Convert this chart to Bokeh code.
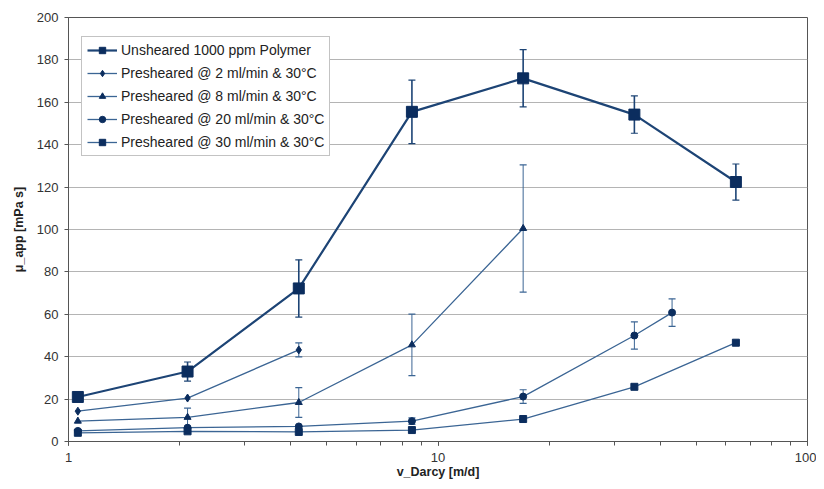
from bokeh.plotting import figure
from bokeh.models import (ColumnDataSource, Whisker, TeeHead, LogTicker, FixedTicker,
                          Legend, LegendItem, Range1d)
from bokeh.embed import file_html
from bokeh.resources import INLINE

# ---- data ----
names = ["Unsheared 1000 ppm Polymer",
         "Presheared @ 2 ml/min & 30°C",
         "Presheared @ 8 ml/min & 30°C",
         "Presheared @ 20 ml/min & 30°C",
         "Presheared @ 30 ml/min & 30°C"]

x_unsheared = [1.06, 2.1, 4.2, 8.5, 17, 34, 64]
y_unsheared = [21, 33, 72.2, 155.5, 171.3, 154.2, 122.4]
e_unsheared = [0, 4.5, 13.5, 15, 13.5, 8.8, 8.5]

x_2ml = [1.06, 2.1, 4.2]
y_2ml = [14.3, 20.5, 43.2]
e_2ml = [0, 0, 3.3]

x_8ml = [1.06, 2.1, 4.2, 8.5, 17]
y_8ml = [9.6, 11.4, 18.4, 45.6, 100.5]
e_8ml = [0, 4.3, 7, 14.5, 30]

x_20ml = [1.06, 2.1, 4.2, 8.5, 17, 34, 43]
y_20ml = [5, 6.5, 7.1, 9.6, 21.2, 50, 60.8]
e_20ml = [0, 0, 0, 1.5, 3.2, 6.4, 6.5]

x_30ml = [1.06, 2.1, 4.2, 8.5, 17, 34, 64]
y_30ml = [4.1, 4.8, 4.5, 5.4, 10.6, 25.8, 46.6]
e_30ml = [0, 0, 0, 0, 0, 0, 0]

y_ticks = [0, 20, 40, 60, 80, 100, 120, 140, 160, 180, 200]

series = [
    (x_unsheared, y_unsheared, e_unsheared, "square", 11, 2.2, "#1d4475", "#0b2d5e"),
    (x_2ml, y_2ml, e_2ml, "diamond", 8, 1.3, "#3b6594", "#0b2d5e"),
    (x_8ml, y_8ml, e_8ml, "triangle", 7, 1.3, "#3b6594", "#0b2d5e"),
    (x_20ml, y_20ml, e_20ml, "circle", 7, 1.3, "#3b6594", "#0b2d5e"),
    (x_30ml, y_30ml, e_30ml, "square", 7, 1.3, "#3b6594", "#0b2d5e"),
]

FONT = "Liberation Sans"

p = figure(width=816, height=481, x_axis_type="log",
           x_range=Range1d(1, 100), y_range=Range1d(0, 200),
           output_backend="svg", toolbar_location=None,
           min_border_left=68, min_border_right=9, min_border_top=17, min_border_bottom=40)

p.outline_line_color = "#555555"
p.outline_line_width = 1
p.background_fill_color = "white"
p.border_fill_color = "white"

p.xgrid.visible = False
p.ygrid.grid_line_color = "#b4b4b4"
p.ygrid.grid_line_width = 1.2

p.xaxis.ticker = LogTicker(num_minor_ticks=10)
p.yaxis.ticker = FixedTicker(ticks=y_ticks)
p.xaxis.major_label_overrides = {1: "1", 10: "10", 100: "100"}

for ax in (p.xaxis[0], p.yaxis[0]):
    ax.axis_line_color = "#555555"
    ax.major_tick_line_color = "#555555"
    ax.minor_tick_line_color = "#555555"
    ax.major_tick_in = 0
    ax.major_tick_out = 4
    ax.minor_tick_in = 0
    ax.minor_tick_out = 4
    ax.major_label_text_font = FONT
    ax.major_label_text_font_size = "13px"
    ax.major_label_text_color = "#333333"
    ax.axis_label_text_font = FONT
    ax.axis_label_text_font_size = "12.5px"
    ax.axis_label_text_font_style = "bold"
    ax.axis_label_text_color = "#222222"

p.yaxis.minor_tick_line_color = None
p.xaxis.axis_label = "v_Darcy [m/d]"
p.yaxis.axis_label = "μ_app [mPa s]"
p.xaxis.major_label_standoff = 7
p.yaxis.major_label_standoff = 6
p.xaxis.axis_label_standoff = 0
p.yaxis.axis_label_standoff = 8

items = []
for (xs, ys, es, marker, size, lw, lcol, mcol), name in zip(series, names):
    src = ColumnDataSource(dict(x=xs, y=ys))
    ex = [x for x, e in zip(xs, es) if e > 0]
    eu = [y + e for y, e in zip(ys, es) if e > 0]
    el = [y - e for y, e in zip(ys, es) if e > 0]
    if ex:
        esrc = ColumnDataSource(dict(base=ex, upper=eu, lower=el))
        w = Whisker(source=esrc, base="base", upper="upper", lower="lower",
                    dimension="height", line_color=lcol, line_width=max(1.0, lw - 0.6),
                    upper_head=TeeHead(size=7, line_color=lcol, line_width=1.2),
                    lower_head=TeeHead(size=7, line_color=lcol, line_width=1.2))
        p.add_layout(w)
    ln = p.line("x", "y", source=src, line_color=lcol, line_width=lw)
    sc = p.scatter("x", "y", source=src, marker=marker, size=size,
                   fill_color=mcol, line_color=mcol)
    items.append(LegendItem(label=name, renderers=[ln, sc]))

legend = Legend(items=items, location=(13, 285))
legend.label_text_font = FONT
legend.label_text_font_size = "14px"
legend.label_text_color = "#222222"
legend.glyph_width = 30
legend.glyph_height = 16
legend.label_height = 16
legend.spacing = 7
legend.padding = 5
legend.margin = 0
legend.label_standoff = 4
legend.border_line_color = "#888888"
legend.border_line_width = 1
legend.background_fill_color = "white"
legend.background_fill_alpha = 1
p.add_layout(legend, "center")

open("out.html", "w").write(file_html(p, INLINE))
